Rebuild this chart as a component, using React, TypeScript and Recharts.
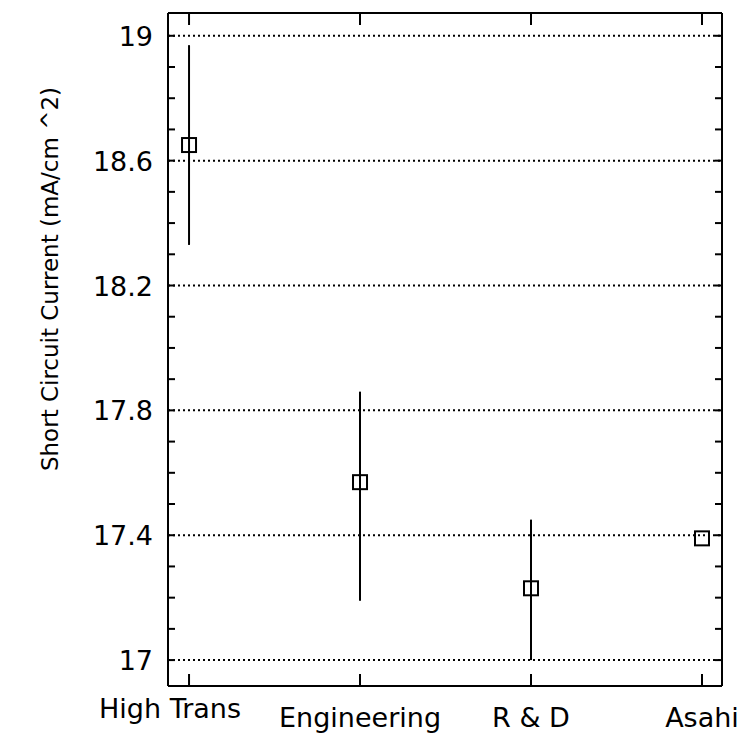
import React from "react"
import { ScatterChart, Scatter, XAxis, YAxis, ErrorBar, ReferenceLine, Label } from "recharts"

// values
const categories = ["High Trans", "Engineering", "R & D", "Asahi"]
const means = [18.65, 17.57, 17.23, 17.39]
const lows = [18.33, 17.19, 17.0, 17.39]
const highs = [18.97, 17.86, 17.45, 17.39]
const majorTicks = [17, 17.4, 17.8, 18.2, 18.6, 19]
const minorTicks = [
  17, 17.1, 17.2, 17.3, 17.4, 17.5, 17.6, 17.7, 17.8, 17.9, 18, 18.1, 18.2, 18.3, 18.4, 18.5, 18.6, 18.7,
  18.8, 18.9, 19,
]
const categoryTicks = [0, 1, 2, 3]

const FONT = "'DejaVu Sans', Verdana, sans-serif"
const Y_DOMAIN = [16.917, 19.073]
const X_DOMAIN = [-0.123, 3.117]

const data = categories.map((name, i) => ({
  name,
  x: i,
  y: means[i],
  err: [means[i] - lows[i], highs[i] - means[i]],
}))

function LeftTick(props: any) {
  const { x, y, payload } = props
  const major = majorTicks.includes(payload.value)
  return (
    <g>
      <line x1={x} x2={x + 7} y1={y} y2={y} stroke="#000" strokeWidth={2} />
      {major && (
        <text x={x - 15} y={y} dy={10} textAnchor="end" fontSize={27} fontFamily={FONT} fill="#000">
          {payload.value}
        </text>
      )}
    </g>
  )
}

function RightTick(props: any) {
  const { x, y } = props
  return <line x1={x} x2={x - 7} y1={y} y2={y} stroke="#000" strokeWidth={2} />
}

function BottomTick(props: any) {
  const { x, y, payload } = props
  // the first label sits higher and a bit to the left in the original
  const first = payload.value === 0
  return (
    <g>
      <line x1={x} x2={x} y1={y} y2={y - 12} stroke="#000" strokeWidth={2} />
      <text
        x={first ? x - 19 : x}
        y={y + (first ? 32 : 41)}
        textAnchor="middle"
        fontSize={27}
        fontFamily={FONT}
        fill="#000"
      >
        {categories[payload.value]}
      </text>
    </g>
  )
}

function TopTick(props: any) {
  const { x, y } = props
  return <line x1={x} x2={x} y1={y} y2={y + 12} stroke="#000" strokeWidth={2} />
}

function Square(props: any) {
  const { cx, cy } = props
  return <rect x={cx - 7} y={cy - 7} width={14} height={14} fill="none" stroke="#000" strokeWidth={2} />
}

export default function App() {
  return (
    <div style={{ position: "absolute", left: 0, top: 0, background: "#fff" }}>
      <ScatterChart width={745} height={744} margin={{ top: 12, right: 22, bottom: 0, left: 0 }}>
        <XAxis
          dataKey="x"
          type="number"
          domain={X_DOMAIN}
          ticks={categoryTicks}
          tick={<BottomTick />}
          tickLine={false}
          tickSize={0}
          tickMargin={0}
          height={58}
          axisLine={{ stroke: "#000", strokeWidth: 2 }}
          allowDataOverflow
        />
        <XAxis
          xAxisId="top"
          orientation="top"
          dataKey="x"
          type="number"
          domain={X_DOMAIN}
          ticks={categoryTicks}
          tick={<TopTick />}
          tickLine={false}
          tickSize={0}
          tickMargin={0}
          height={1}
          axisLine={{ stroke: "#000", strokeWidth: 2 }}
          allowDataOverflow
        />
        <YAxis
          dataKey="y"
          type="number"
          domain={Y_DOMAIN}
          ticks={minorTicks}
          interval={0}
          tick={<LeftTick />}
          tickLine={false}
          tickSize={0}
          tickMargin={0}
          width={168}
          axisLine={{ stroke: "#000", strokeWidth: 2 }}
          allowDataOverflow
        >
          <Label
            content={() => (
              <text
                x={50}
                y={279}
                transform="rotate(-90 50 279)"
                textAnchor="middle"
                dominantBaseline="central"
                fontSize={23}
                fontFamily={FONT}
                fill="#000"
              >
                Short Circuit Current (mA/cm ^2)
              </text>
            )}
          />
        </YAxis>
        <YAxis
          yAxisId="right"
          orientation="right"
          dataKey="y"
          type="number"
          domain={Y_DOMAIN}
          ticks={minorTicks}
          interval={0}
          tick={<RightTick />}
          tickLine={false}
          tickSize={0}
          tickMargin={0}
          width={1}
          axisLine={{ stroke: "#000", strokeWidth: 2 }}
          allowDataOverflow
        />
        {majorTicks.map((v) => (
          <ReferenceLine key={v} y={v} stroke="#000" strokeWidth={2} strokeDasharray="2 3" />
        ))}
        <Scatter data={data} dataKey="y" shape={<Square />} isAnimationActive={false}>
          <ErrorBar dataKey="err" direction="y" width={0} stroke="#000" strokeWidth={2} isAnimationActive={false} />
        </Scatter>
        {/* hidden series so the top and right frame axes get drawn */}
        <Scatter
          data={data}
          dataKey="y"
          xAxisId="top"
          yAxisId="right"
          shape={() => <g />}
          isAnimationActive={false}
        />
      </ScatterChart>
    </div>
  )
}
